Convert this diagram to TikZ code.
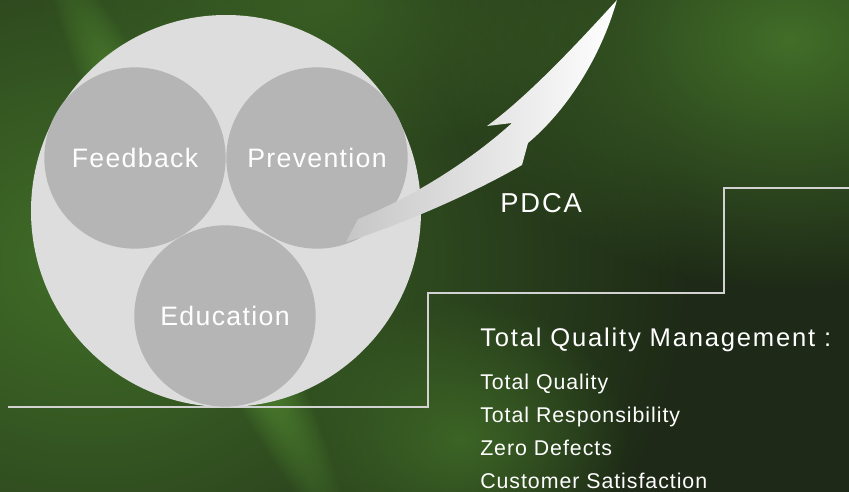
\documentclass[tikz,border=0pt]{standalone}
\usepackage{fontspec}
\setmainfont{Liberation Sans}
\newfontfamily\labelfont[LetterSpace=5]{Liberation Sans}
\newfontfamily\headfont[LetterSpace=7]{Liberation Sans}
\newfontfamily\listfont[LetterSpace=4.5]{Liberation Sans}
\usetikzlibrary{shapes.geometric,fadings,positioning}
\definecolor{bgdark}{HTML}{1E2A17}
\definecolor{bggreen}{HTML}{416E28}
\definecolor{bgstreak}{HTML}{5C9C37}
\definecolor{discgray}{HTML}{DCDDDC}
\definecolor{innergray}{HTML}{B5B5B5}
\definecolor{arrowgray}{HTML}{C6C6C6}
\definecolor{stairgray}{HTML}{D2D2D2}
\tikzfading[name=glowfade, inner color=transparent!0, outer color=transparent!100]
\begin{document}
\begin{tikzpicture}[x=0.75pt,y=-0.75pt,
  bigdisc/.style={ellipse,fill=discgray,minimum width=292.5pt,minimum height=294pt,inner sep=0pt},
  smalldisc/.style={circle,fill=innergray,minimum size=136pt,inner sep=0pt,text=white,
    font=\labelfont\fontsize{20}{24}\selectfont},
  glow/.style={fill=#1,path fading=glowfade},
  stairline/.style={draw=stairgray,line width=1.1pt},
  headtext/.style={anchor=base west,inner sep=0pt,text=white,font=\headfont\fontsize{19.2}{22}\selectfont},
  listtext/.style={anchor=base west,inner sep=0pt,text=white,font=\listfont\fontsize{16}{19}\selectfont}]
\useasboundingbox (0,0) rectangle (849,492);
\clip (0,0) rectangle (849,492);
% background
\fill[bgdark] (0,0) rectangle (849,492);
\fill[glow=bggreen] (90,260) ellipse [x radius=600, y radius=520];
\fill[glow=bggreen,opacity=.6] (330,0) ellipse [x radius=300, y radius=160];
\fill[glow=bggreen] (790,40) ellipse [x radius=360, y radius=250];
\fill[glow=bggreen,opacity=.8] (460,440) ellipse [x radius=170, y radius=140];
\fill[glow=bgstreak,transform canvas={rotate around={-63.5:(197,246)}}] (197,246) ellipse [x radius=330, y radius=40];
% step line
\draw[stairline] (8,407) -- (428,407) -- (428,293) -- (724,293) -- (724,188) -- (849,188);
% circles
\node[bigdisc] (core) at (226,211) {};
\node[smalldisc] (feedback) at (135,158) {Feedback};
\node[smalldisc] (prevention) at (317,158) {Prevention};
\node[smalldisc] (education) at (225,316) {Education};
% arrow
\shade[left color=arrowgray,right color=white]
  (617,0) .. controls (585,35) and (530,95) .. (487,126) -- (512,123)
  .. controls (480,152) and (425,192) .. (358,219) -- (346,242)
  .. controls (400,225) and (470,195) .. (522,165) -- (528,143)
  .. controls (565,112) and (600,60) .. (617,0) -- cycle;
\node[anchor=base west,inner sep=0pt,text=white,font=\headfont\fontsize{20.5}{24}\selectfont] (pdca) at (500,212) {PDCA};
% text
\node[headtext] (tqm) at (480,346) {Total Quality Management :};
\foreach \entry [count=\i] in {Total Quality,Total Responsibility,Zero Defects,Customer Satisfaction}
  \node[listtext] (entry\i) at (480,{356+33*\i}) {\entry};
\end{tikzpicture}
\end{document}
